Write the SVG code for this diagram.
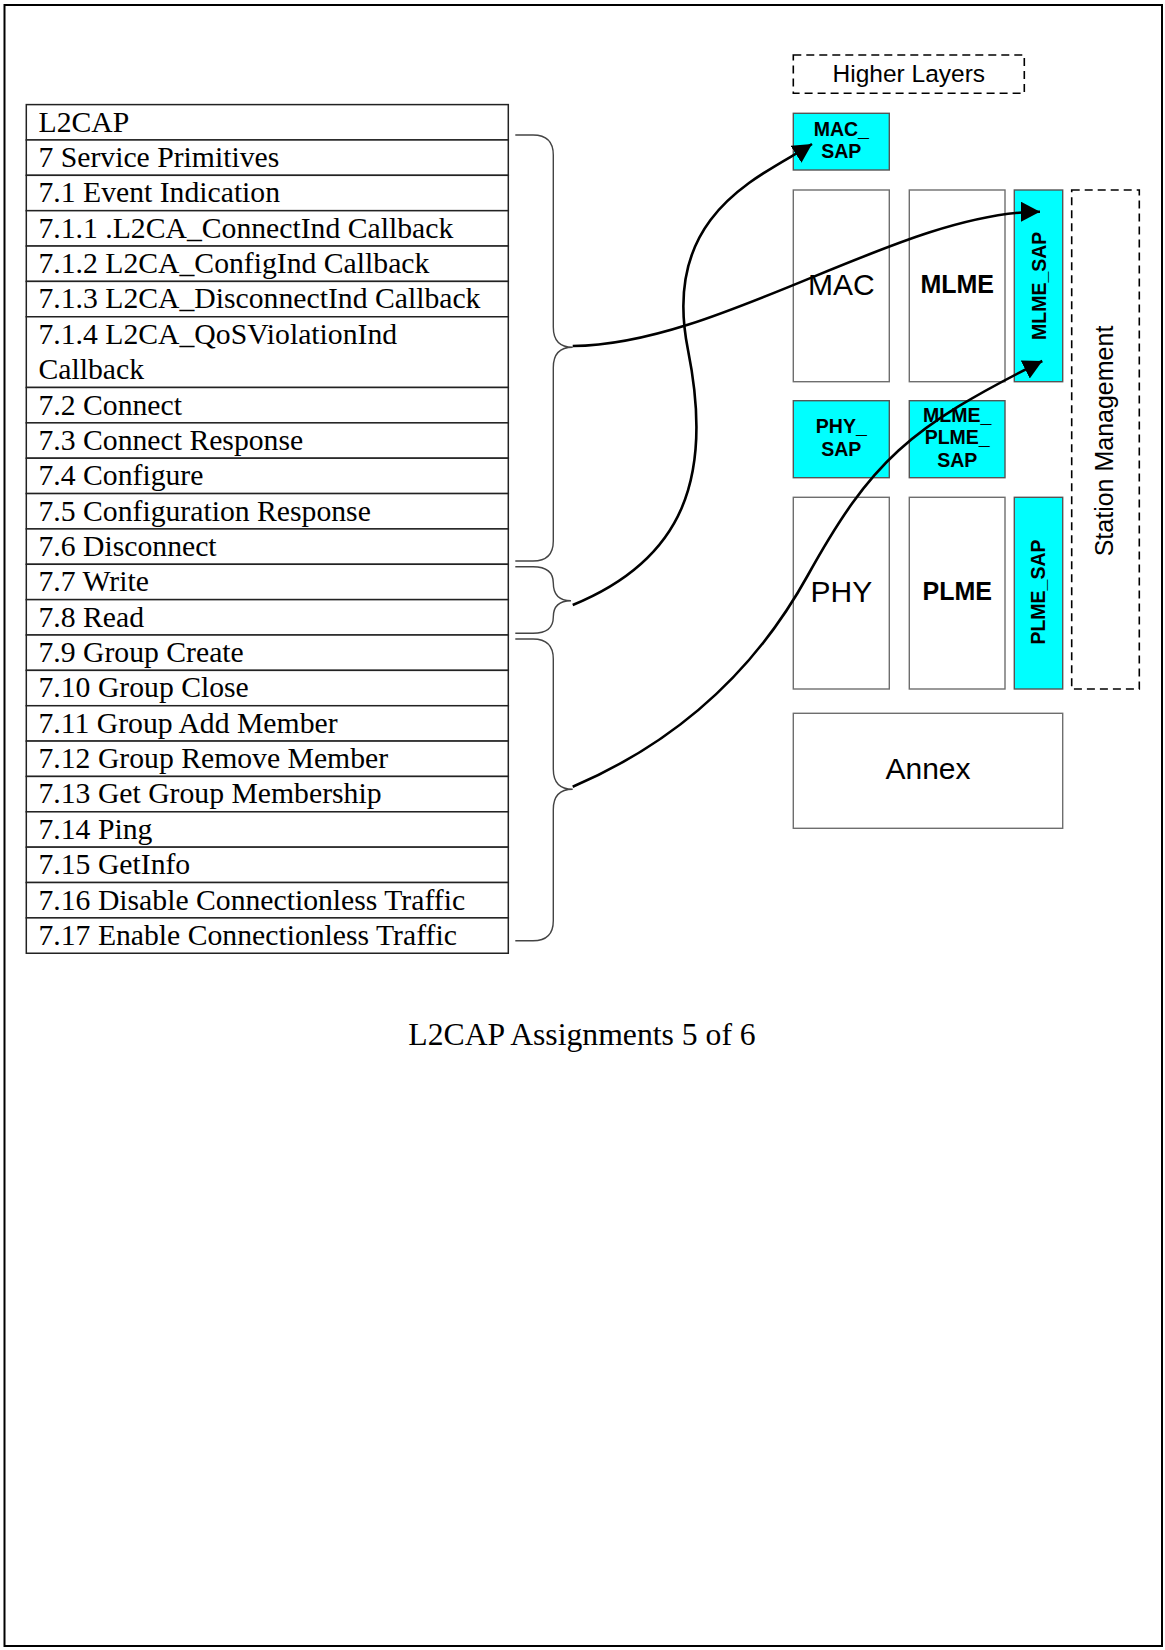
<svg xmlns="http://www.w3.org/2000/svg" width="1165" height="1650" viewBox="0 0 1165 1650">
<style>
.row{fill:#fff;stroke:#222;stroke-width:1.5}
.rt{font-family:"Liberation Serif","Times New Roman",serif;font-size:29.7px;fill:#000}
.box{fill:#fff;stroke:#6e6e6e;stroke-width:1.4}
.sap{fill:#00ffff;stroke:#555;stroke-width:1.4}
.dash{fill:none;stroke:#000;stroke-width:1.6;stroke-dasharray:8,5}
.sans{font-family:"Liberation Sans",Arial,sans-serif;fill:#000;text-anchor:middle}
.b{font-weight:bold}
.brace{fill:none;stroke:#444;stroke-width:1.4}
.arr{fill:none;stroke:#000;stroke-width:2.6}
</style>
<defs>
<marker id="ah" markerUnits="userSpaceOnUse" markerWidth="21" markerHeight="22" refX="19" refY="10" orient="auto">
<path d="M0,0 L19,10 L0,20 Z" fill="#000"/>
</marker>
</defs>
<rect x="4.5" y="5" width="1157.5" height="1641" fill="#fff" stroke="#000" stroke-width="2"/>

<g id="table">
<g id="row-l2cap"><rect class="row" x="26.3" y="104.6" width="482" height="35.36"/><text class="rt" x="38.5" y="131.6">L2CAP</text></g>
<g id="row-7"><rect class="row" x="26.3" y="139.96" width="482" height="35.36"/><text class="rt" x="38.5" y="167">7 Service Primitives</text></g>
<g id="row-7-1"><rect class="row" x="26.3" y="175.32" width="482" height="35.36"/><text class="rt" x="38.5" y="202.3">7.1 Event Indication</text></g>
<g id="row-7-1-1"><rect class="row" x="26.3" y="210.68" width="482" height="35.36"/><text class="rt" x="38.5" y="237.7">7.1.1 .L2CA_ConnectInd Callback</text></g>
<g id="row-7-1-2"><rect class="row" x="26.3" y="246.04" width="482" height="35.36"/><text class="rt" x="38.5" y="273">7.1.2 L2CA_ConfigInd Callback</text></g>
<g id="row-7-1-3"><rect class="row" x="26.3" y="281.4" width="482" height="35.36"/><text class="rt" x="38.5" y="308.4">7.1.3 L2CA_DisconnectInd Callback</text></g>
<g id="row-7-1-4"><rect class="row" x="26.3" y="316.76" width="482" height="70.72"/><text class="rt" x="38.5" y="343.8">7.1.4 L2CA_QoSViolationInd</text><text class="rt" x="38.5" y="379.1">Callback</text></g>
<g id="row-7-2"><rect class="row" x="26.3" y="387.48" width="482" height="35.36"/><text class="rt" x="38.5" y="414.5">7.2 Connect</text></g>
<g id="row-7-3"><rect class="row" x="26.3" y="422.84" width="482" height="35.36"/><text class="rt" x="38.5" y="449.8">7.3 Connect Response</text></g>
<g id="row-7-4"><rect class="row" x="26.3" y="458.2" width="482" height="35.36"/><text class="rt" x="38.5" y="485.2">7.4 Configure</text></g>
<g id="row-7-5"><rect class="row" x="26.3" y="493.56" width="482" height="35.36"/><text class="rt" x="38.5" y="520.6">7.5 Configuration Response</text></g>
<g id="row-7-6"><rect class="row" x="26.3" y="528.92" width="482" height="35.36"/><text class="rt" x="38.5" y="555.9">7.6 Disconnect</text></g>
<g id="row-7-7"><rect class="row" x="26.3" y="564.28" width="482" height="35.36"/><text class="rt" x="38.5" y="591.3">7.7 Write</text></g>
<g id="row-7-8"><rect class="row" x="26.3" y="599.64" width="482" height="35.36"/><text class="rt" x="38.5" y="626.6">7.8 Read</text></g>
<g id="row-7-9"><rect class="row" x="26.3" y="635" width="482" height="35.36"/><text class="rt" x="38.5" y="662">7.9 Group Create</text></g>
<g id="row-7-10"><rect class="row" x="26.3" y="670.36" width="482" height="35.36"/><text class="rt" x="38.5" y="697.4">7.10 Group Close</text></g>
<g id="row-7-11"><rect class="row" x="26.3" y="705.72" width="482" height="35.36"/><text class="rt" x="38.5" y="732.7">7.11 Group Add Member</text></g>
<g id="row-7-12"><rect class="row" x="26.3" y="741.08" width="482" height="35.36"/><text class="rt" x="38.5" y="768.1">7.12 Group Remove Member</text></g>
<g id="row-7-13"><rect class="row" x="26.3" y="776.44" width="482" height="35.36"/><text class="rt" x="38.5" y="803.4">7.13 Get Group Membership</text></g>
<g id="row-7-14"><rect class="row" x="26.3" y="811.8" width="482" height="35.36"/><text class="rt" x="38.5" y="838.8">7.14 Ping</text></g>
<g id="row-7-15"><rect class="row" x="26.3" y="847.16" width="482" height="35.36"/><text class="rt" x="38.5" y="874.2">7.15 GetInfo</text></g>
<g id="row-7-16"><rect class="row" x="26.3" y="882.52" width="482" height="35.36"/><text class="rt" x="38.5" y="909.5">7.16 Disable Connectionless Traffic</text></g>
<g id="row-7-17"><rect class="row" x="26.3" y="917.88" width="482" height="35.36"/><text class="rt" x="38.5" y="944.9">7.17 Enable Connectionless Traffic</text></g>
</g>

<g id="higher-layers"><rect class="dash" x="793.3" y="55" width="231" height="38.3"/><text class="sans" x="908.8" y="81.7" font-size="24.5">Higher Layers</text></g>
<g id="mac-sap"><rect class="sap" x="793.3" y="113.3" width="96" height="56.7"/><text class="sans b" font-size="19.5"><tspan x="841.3" y="136">MAC_</tspan><tspan x="841.3" y="158.3">SAP</tspan></text></g>
<g id="mac"><rect class="box" x="793.3" y="190" width="96" height="191.7"/><text class="sans" x="841.3" y="295" font-size="30">MAC</text></g>
<g id="mlme"><rect class="box" x="909.3" y="190" width="95.7" height="191.7"/><text class="sans b" x="957.2" y="293.3" font-size="25">MLME</text></g>
<g id="mlme-sap"><rect class="sap" x="1014.3" y="190" width="48.4" height="191.7"/><text class="sans b" font-size="19.5" transform="translate(1045.5,285.8) rotate(-90)" x="0" y="0">MLME_SAP</text></g>
<g id="station-management"><rect class="dash" x="1071.7" y="190" width="67.6" height="499"/><text class="sans" font-size="25" transform="translate(1113.3,441) rotate(-90)" x="0" y="0">Station Management</text></g>
<g id="phy-sap"><rect class="sap" x="793.3" y="400.7" width="96" height="77"/><text class="sans b" font-size="19.5"><tspan x="841.3" y="433.3">PHY_</tspan><tspan x="841.3" y="456">SAP</tspan></text></g>
<g id="mlme-plme-sap"><rect class="sap" x="909.3" y="400.7" width="95.7" height="77"/><text class="sans b" font-size="19.5"><tspan x="957.2" y="421.7">MLME_</tspan><tspan x="957.2" y="444">PLME_</tspan><tspan x="957.2" y="467.3">SAP</tspan></text></g>
<g id="phy"><rect class="box" x="793.3" y="497.3" width="96" height="191.7"/><text class="sans" x="841.3" y="601.7" font-size="30">PHY</text></g>
<g id="plme"><rect class="box" x="909.3" y="497.3" width="95.7" height="191.7"/><text class="sans b" x="957.2" y="600" font-size="25">PLME</text></g>
<g id="plme-sap"><rect class="sap" x="1014.3" y="497.3" width="48.4" height="191.7"/><text class="sans b" font-size="19.5" transform="translate(1045,592) rotate(-90)" x="0" y="0">PLME_SAP</text></g>
<g id="annex"><rect class="box" x="793.3" y="713.3" width="269.4" height="115"/><text class="sans" x="928" y="779" font-size="30">Annex</text></g>

<g id="connectors">
<path class="brace" d="M515.3,135 H533 Q553.3,135 553.3,155 V327 Q553.3,347.3 572.7,347.3 Q553.3,347.3 553.3,367.6 V541 Q553.3,561 533,561 H515.3"/>
<path class="brace" d="M515.3,566.7 H533 Q553.3,566.7 553.3,583 Q553.3,600.7 571,600.7 Q553.3,600.7 553.3,617 Q553.3,633.3 533,633.3 H515.3"/>
<path class="brace" d="M515.3,639 H533 Q553.3,639 553.3,659 V769 Q553.3,789.3 572.7,789.3 Q553.3,789.3 553.3,809.6 V920.7 Q553.3,940.7 533,940.7 H515.3"/>
<path class="arr" marker-end="url(#ah)" d="M572.7,346 C720,345 900,212 1040,211.7"/>
<path class="arr" marker-end="url(#ah)" d="M572.7,605 C683.7,559.6 713.6,477.4 688,350 C660.4,212.8 761.5,176.5 812,144"/>
<path class="arr" marker-end="url(#ah)" d="M572.7,786.7 C676.4,742.4 754.2,672.5 808,575 C871.2,461.4 908.2,428 1042.3,361"/>
</g>

<g id="caption"><text x="408.3" y="1045" font-family="Liberation Serif, Times New Roman, serif" font-size="31.7" fill="#000">L2CAP Assignments 5 of 6</text></g>
</svg>
